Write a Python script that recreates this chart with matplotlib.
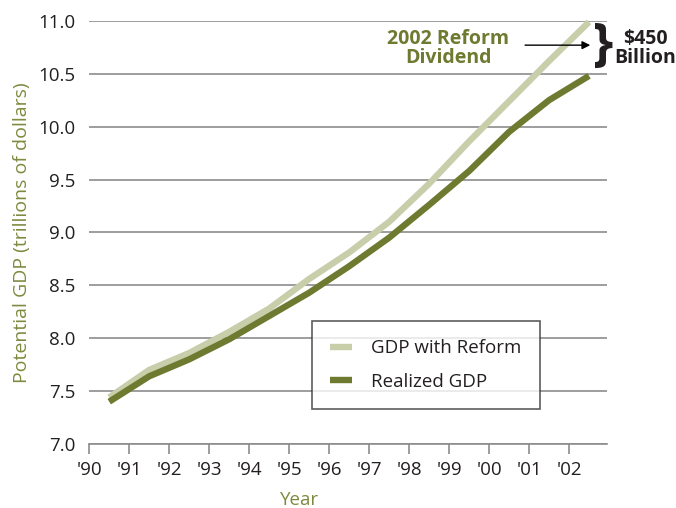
import matplotlib
matplotlib.use("Agg")
from matplotlib import pyplot as plt

plt.rcParams['font.family'] = ['Open Sans', 'DejaVu Sans']

# data, points at mid-year
years = [0.5, 1.5, 2.5, 3.5, 4.5, 5.5, 6.5, 7.5, 8.5, 9.5, 10.5, 11.5, 12.5]
gdp_reform = [7.44, 7.70, 7.86, 8.06, 8.28, 8.56, 8.81, 9.10, 9.46, 9.86, 10.24, 10.62, 10.99]
gdp_realized = [7.40, 7.64, 7.80, 7.99, 8.21, 8.43, 8.68, 8.95, 9.26, 9.58, 9.95, 10.25, 10.48]
tick_labels = ["'90", "'91", "'92", "'93", "'94", "'95", "'96", "'97", "'98", "'99", "'00", "'01", "'02"]
y_ticks = [7.0, 7.5, 8.0, 8.5, 9.0, 9.5, 10.0, 10.5, 11.0]

light = "#c8cdaa"
dark = "#6e7a30"
label_green = "#7d8a3e"
text_col = "#231f20"

fig = plt.figure(figsize=(6.76, 5.08), dpi=100)
ax = fig.add_axes([0.132, 0.126, 0.766, 0.833])

ax.plot(years, gdp_reform, color=light, lw=4.6, label="GDP with Reform",
        solid_capstyle="butt", clip_on=False, zorder=3)
ax.plot(years, gdp_realized, color=dark, lw=4.6, label="Realized GDP",
        solid_capstyle="butt", clip_on=False, zorder=3)

ax.set_xlim(0, 12.95)
ax.set_ylim(7.0, 11.0)
ax.set_xticks(range(len(tick_labels)))
ax.set_xticklabels(tick_labels)
ax.set_yticks(y_ticks)
ax.set_yticklabels([f"{v:.1f}" for v in y_ticks])

ax.grid(axis="y", color="#8c8c8c", lw=1.2, zorder=0)
for s in ["left", "right", "top"]:
    ax.spines[s].set_visible(False)
ax.spines["bottom"].set_color("#8c8c8c")
ax.spines["bottom"].set_linewidth(1.2)
ax.tick_params(axis="x", direction="out", length=7, width=1.2, color="#8c8c8c",
               labelsize=13.5, labelcolor=text_col, pad=5)
ax.tick_params(axis="y", length=0, labelsize=13.5, labelcolor=text_col, pad=10)

ax.set_ylabel("Potential GDP (trillions of dollars)", color=label_green, fontsize=14, labelpad=5)
fig.text(300 / 676, 1 - 500 / 508, "Year", ha="center", va="center", color=label_green, fontsize=13.5)

leg = ax.legend(loc="lower left", bbox_to_anchor=(0.43, 0.083, 0.44, 0.196), mode="expand",
                fontsize=13.5, frameon=True, fancybox=False, handlelength=1.2,
                handletextpad=1.0, borderpad=0.95, labelspacing=0.85, borderaxespad=0)
leg.get_frame().set_edgecolor("#333333")
leg.get_frame().set_linewidth(1.2)
for t in leg.get_texts():
    t.set_color(text_col)

# annotation
ax.text(8.98, 10.74, "2002 Reform\nDividend", ha="center", va="center", fontsize=14,
        fontweight="bold", color=dark, linespacing=0.95)
ax.annotate("", xy=(12.6, 10.77), xytext=(10.83, 10.77),
            arrowprops=dict(arrowstyle="-|>", color="black", lw=1.0, mutation_scale=12))
ax.text(12.85, 10.76, "}", ha="center", va="center", fontsize=37, color=text_col,
        fontweight="bold", clip_on=False)
ax.text(13.9, 10.74, "$450\nBillion", ha="center", va="center", fontsize=14,
        fontweight="bold", color=text_col, linespacing=0.95, clip_on=False)

fig.savefig("out.png", dpi=100)
